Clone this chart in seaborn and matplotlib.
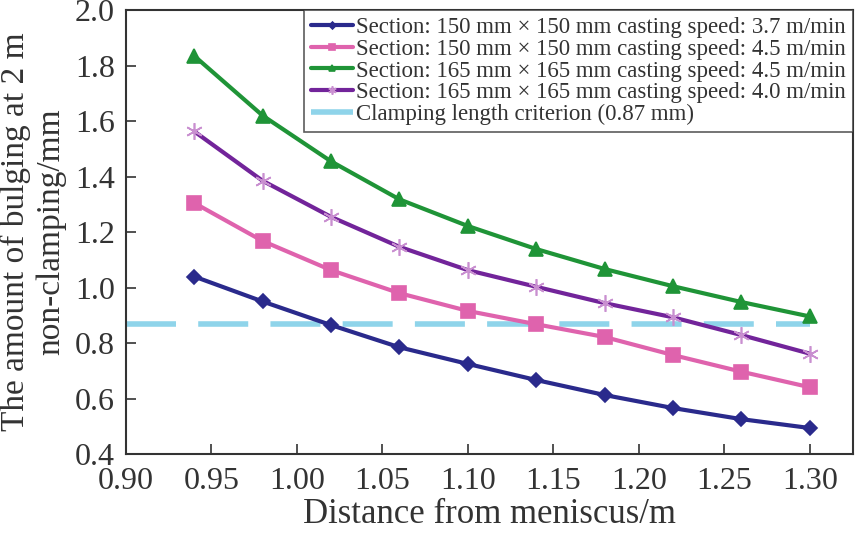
import numpy as np
import pandas as pd
import matplotlib
matplotlib.use("Agg")
import matplotlib.pyplot as plt
import seaborn as sns

# distance from meniscus (m)
distance = [0.94, 0.98, 1.02, 1.06, 1.10, 1.14, 1.18, 1.22, 1.26, 1.30]

# bulging amount (mm) for each section / casting speed
bulge_150_37 = [1.04, 0.95, 0.865, 0.785, 0.725, 0.667, 0.613, 0.566, 0.526, 0.494]
bulge_150_45 = [1.305, 1.168, 1.063, 0.980, 0.916, 0.868, 0.822, 0.757, 0.697, 0.641]
bulge_165_45 = [1.835, 1.620, 1.455, 1.318, 1.222, 1.139, 1.067, 1.005, 0.948, 0.896]
bulge_165_40 = [1.563, 1.385, 1.255, 1.147, 1.063, 1.003, 0.944, 0.893, 0.829, 0.762]

criterion = 0.87

labels = [
    "Section: 150 mm \u00d7 150 mm casting speed: 3.7 m/min",
    "Section: 150 mm \u00d7 150 mm casting speed: 4.5 m/min",
    "Section: 165 mm \u00d7 165 mm casting speed: 4.5 m/min",
    "Section: 165 mm \u00d7 165 mm casting speed: 4.0 m/min",
    "Clamping length criterion (0.87 mm)",
]

sns.set_style("ticks")
plt.rcParams['font.family'] = ['Liberation Serif', 'DejaVu Serif']

fig = plt.figure(figsize=(8.56, 5.33), dpi=100)
ax = fig.add_axes([0.147, 0.148, 0.849, 0.833])

series = [
    (bulge_150_37, "#2a2a8c", "D", 7, "#2a2a8c"),
    (bulge_150_45, "#df63ad", "s", 10, "#df63ad"),
    (bulge_165_45, "#1f9437", "^", 10, "#1f9437"),
    (bulge_165_40, "#72249a", (6, 2, 0), 12, "#c98fd0"),
]

for (vals, col, mk, ms, mcol), lab in zip(series, labels):
    sns.lineplot(x=distance, y=vals, ax=ax, color=col, lw=3, marker=mk,
                 markersize=ms, markerfacecolor=mcol, markeredgecolor=mcol,
                 markeredgewidth=1.2, label=lab)

ax.plot([0.90, 1.30], [criterion, criterion], color="#8fd4ea", lw=4,
        dashes=(9, 4), label=labels[4], zorder=1)

ax.set_xlim(0.90, 1.325)
ax.set_ylim(0.4, 2.0)
xt = np.arange(0.90, 1.301, 0.05)
yt = np.arange(0.4, 2.01, 0.2)
ax.set_xticks(xt)
ax.set_xticklabels([f"{v:.2f}" for v in xt])
ax.set_yticks(yt)
ax.set_yticklabels([f"{v:.1f}" for v in yt])

ax.tick_params(direction="in", length=7, width=1.2, labelsize=23,
               top=False, right=False, colors="#333333")
ax.tick_params(axis="x", pad=9)
ax.tick_params(axis="y", pad=8)
for s in ax.spines.values():
    s.set_linewidth(1.5)
    s.set_color("#333333")

ax.set_xlabel("Distance from meniscus/m", fontsize=25, color="#333333", labelpad=2)
ax.set_ylabel("The amount of bulging at 2 m\nnon-clamping/mm", fontsize=24,
              color="#333333", labelpad=6, linespacing=1.2)

leg = ax.legend(loc="upper right", fontsize=16.5, frameon=True, fancybox=False,
                edgecolor="#333333", borderaxespad=0, handlelength=1.8,
                handletextpad=0.15, labelspacing=0.03, borderpad=0.3,
                markerscale=0.5)
leg.get_frame().set_linewidth(1.2)
for t in leg.get_texts():
    t.set_color("#333333")

fig.savefig("out.png", dpi=100)
